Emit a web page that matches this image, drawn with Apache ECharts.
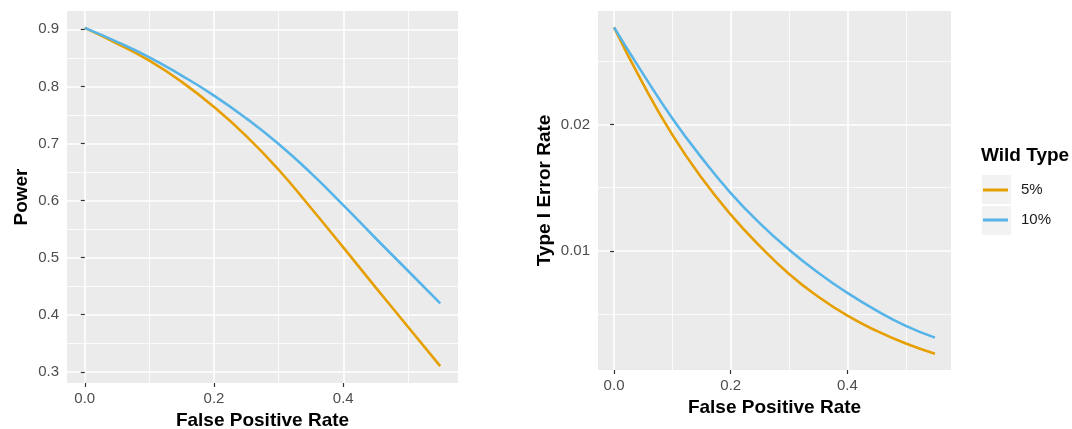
<!DOCTYPE html>
<html>
<head>
<meta charset="utf-8">
<title>Power and Type I error</title>
<script src="https://cdn.jsdelivr.net/npm/echarts@6/dist/echarts.min.js"></script>
<style>
html,body{margin:0;padding:0;background:#fff;}
#chart{width:1072px;height:429px;}
</style>
</head>
<body>
<div id="chart"></div>
<script>
// x values: false positive rate
var fpr = [0, 0.05, 0.1, 0.15, 0.2, 0.25, 0.3, 0.35, 0.4, 0.45, 0.5, 0.55];
// power (left panel)
var power5  = [0.9025, 0.875, 0.845, 0.808, 0.764, 0.713, 0.654, 0.587, 0.518, 0.448, 0.379, 0.310];
var power10 = [0.9025, 0.878, 0.851, 0.819, 0.784, 0.744, 0.699, 0.648, 0.592, 0.534, 0.477, 0.420];
// type I error rate (right panel)
var err5  = [0.02768, 0.02318, 0.01918, 0.01578, 0.01288, 0.01038, 0.00818, 0.00638, 0.00488, 0.00368, 0.00268, 0.00188];
var err10 = [0.02768, 0.02398, 0.02048, 0.01738, 0.01458, 0.01218, 0.01010, 0.00828, 0.00668, 0.00528, 0.00408, 0.00315];
var groups = ['5%', '10%'];

// tick / grid line values
var xMajor = [0, 0.2, 0.4];
var xMinor = [0.1, 0.3, 0.5];
var powerMajor = [0.3, 0.4, 0.5, 0.6, 0.7, 0.8, 0.9];
var powerMinor = [0.35, 0.45, 0.55, 0.65, 0.75, 0.85];
var errMajor = [0.01, 0.02];
var errMinor = [0.005, 0.015, 0.025];

var orange = '#E69F00', blue = '#56B4E9';
var font = '"Liberation Sans", Arial, sans-serif';

// ggplot style 5% expansion of the data range
function expand(arrs) {
    var all = [].concat.apply([], arrs);
    var lo = Math.min.apply(null, all), hi = Math.max.apply(null, all);
    var p = (hi - lo) * 0.05;
    return [lo - p, hi + p];
}
function pairs(ys) {
    return fpr.map(function (x, i) { return [x, ys[i]]; });
}

var xLim = expand([fpr]);
var powerLim = expand([power5, power10]);
var errLim = expand([err5, err10]);

function majorAxis(grid, lim, ticks, name, gap, fmt) {
    return {
        type: 'value', gridIndex: grid, min: lim[0], max: lim[1],
        name: name, nameLocation: 'middle', nameGap: gap,
        nameTextStyle: {fontFamily: font, fontSize: 19, fontWeight: 'bold', color: '#000'},
        axisLine: {show: false},
        axisTick: {show: true, length: 4, customValues: ticks, lineStyle: {color: '#333', width: 1.2}},
        axisLabel: {customValues: ticks, margin: 8, fontFamily: font, fontSize: 15, color: '#4D4D4D', formatter: fmt},
        splitLine: {show: true, lineStyle: {color: '#fff', width: 1.6}}
    };
}
function minorAxis(grid, lim, ticks) {
    return {
        type: 'value', gridIndex: grid, min: lim[0], max: lim[1],
        axisLine: {show: false},
        axisTick: {show: false, customValues: ticks},
        axisLabel: {show: false, customValues: ticks},
        splitLine: {show: true, lineStyle: {color: '#fff', width: 0.8}}
    };
}

var chart = echarts.init(document.getElementById('chart'), null, {renderer: 'canvas'});

var option = {
    animation: false,
    backgroundColor: '#fff',
    grid: [
        {left: 67, top: 11, width: 391, height: 372, outerBoundsMode: 'none', show: true, backgroundColor: '#EBEBEB', borderWidth: 0},
        {left: 598, top: 11, width: 353, height: 359, outerBoundsMode: 'none', show: true, backgroundColor: '#EBEBEB', borderWidth: 0}
    ],
    xAxis: [
        majorAxis(0, xLim, xMajor, 'False Positive Rate', 28, function (v) { return v.toFixed(1); }),
        minorAxis(0, xLim, xMinor),
        majorAxis(1, xLim, xMajor, 'False Positive Rate', 28, function (v) { return v.toFixed(1); }),
        minorAxis(1, xLim, xMinor)
    ],
    yAxis: [
        majorAxis(0, powerLim, powerMajor, 'Power', 36, function (v) { return v.toFixed(1); }),
        minorAxis(0, powerLim, powerMinor),
        majorAxis(1, errLim, errMajor, 'Type I Error Rate', 44, function (v) { return v.toFixed(2); }),
        minorAxis(1, errLim, errMinor)
    ],
    legend: {
        data: groups,
        orient: 'vertical',
        left: 983, top: 175,
        padding: 0, itemGap: 0,
        itemWidth: 25, itemHeight: 3,
        icon: 'rect',
        textStyle: {fontFamily: font, fontSize: 15, color: '#1a1a1a', lineHeight: 30, padding: [0, 0, 0, 8]}
    },
    graphic: [
        {type: 'rect', z: 0, shape: {x: 982, y: 175, width: 29, height: 29}, style: {fill: '#F2F2F2'}},
        {type: 'rect', z: 0, shape: {x: 982, y: 206, width: 29, height: 29}, style: {fill: '#F2F2F2'}},
        {type: 'text', z: 1, style: {x: 981, y: 156, text: 'Wild Type', font: 'bold 19px ' + font, fill: '#000', verticalAlign: 'middle'}}
    ],
    series: [
        {name: groups[0], type: 'line', xAxisIndex: 0, yAxisIndex: 0, data: pairs(power5), smooth: true, showSymbol: false, color: orange, lineStyle: {width: 2.6}},
        {name: groups[1], type: 'line', xAxisIndex: 0, yAxisIndex: 0, data: pairs(power10), smooth: true, showSymbol: false, color: blue, lineStyle: {width: 2.6}},
        {name: groups[0], type: 'line', xAxisIndex: 2, yAxisIndex: 2, data: pairs(err5), smooth: true, showSymbol: false, color: orange, lineStyle: {width: 2.6}},
        {name: groups[1], type: 'line', xAxisIndex: 2, yAxisIndex: 2, data: pairs(err10), smooth: true, showSymbol: false, color: blue, lineStyle: {width: 2.6}}
    ]
};
chart.setOption(option);
</script>
</body>
</html>
